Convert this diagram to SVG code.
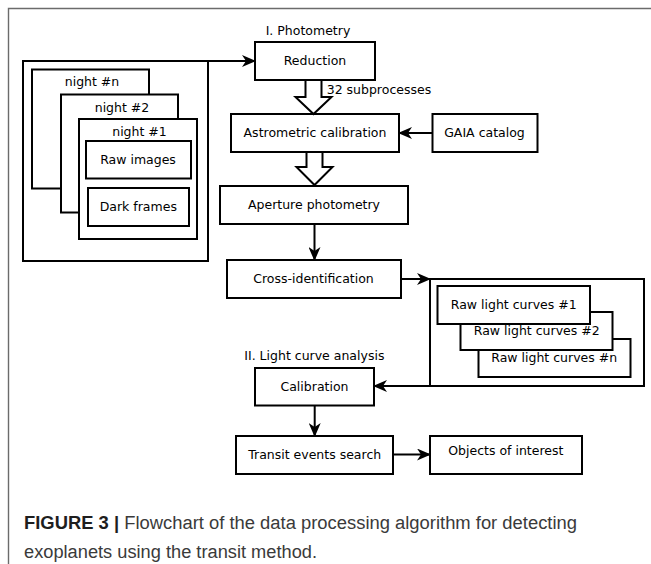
<svg xmlns="http://www.w3.org/2000/svg" width="651" height="564" viewBox="0 0 651 564">
  <style>
    .box { fill: #fff; stroke: #000; stroke-width: 2; }
    .lbl { font-family: "DejaVu Sans", sans-serif; font-size: 12.5px; fill: #000; }
    .mid { text-anchor: middle; }
    .wire { fill: none; stroke: #000; stroke-width: 2; }
    .fat { fill: #fff; stroke: #000; stroke-width: 2; stroke-linejoin: miter; }
    .cap { font-family: "Liberation Sans", Arial, sans-serif; font-size: 18px; fill: #3a3a3a; }
  </style>
  <defs>
    <marker id="head" markerUnits="userSpaceOnUse" viewBox="0 0 14 12" refX="13" refY="6" markerWidth="14" markerHeight="12" orient="auto">
      <path d="M0,0 L14,6 L0,12 L4,6 Z" fill="#000"/>
    </marker>
  </defs>

  <!-- page frame -->
  <path d="M8.5,564 V8.5 H651" fill="none" stroke="#6b6b6b" stroke-width="1.4"/>

  <!-- input data: nights of observation -->
  <g id="nights">
    <rect class="box" x="23" y="61" width="185" height="200"/>
    <g id="night-n">
      <rect class="box" x="32" y="69.5" width="117" height="119"/>
      <text class="lbl mid" x="92" y="86">night #n</text>
    </g>
    <g id="night-2">
      <rect class="box" x="61" y="94.5" width="117" height="118"/>
      <text class="lbl mid" x="122" y="111.5">night #2</text>
    </g>
    <g id="night-1">
      <rect class="box" x="79" y="119" width="118" height="120"/>
      <text class="lbl mid" x="139.5" y="136">night #1</text>
      <g id="raw-images">
        <rect class="box" x="86" y="141" width="105" height="37.5"/>
        <text class="lbl mid" x="138" y="163.5">Raw images</text>
      </g>
      <g id="dark-frames">
        <rect class="box" x="88" y="188" width="101" height="38"/>
        <text class="lbl mid" x="138.3" y="210.5">Dark frames</text>
      </g>
    </g>
  </g>

  <text class="lbl" x="265.7" y="34.5">I. Photometry</text>

  <g id="reduction">
    <rect class="box" x="255" y="42" width="120" height="38"/>
    <text class="lbl mid" x="315" y="65.3">Reduction</text>
  </g>

  <g id="astrometric">
    <rect class="box" x="231" y="114" width="168" height="38"/>
    <text class="lbl mid" x="315" y="137.3">Astrometric calibration</text>
  </g>

  <g id="gaia">
    <rect class="box" x="432.5" y="114" width="105" height="38"/>
    <text class="lbl mid" x="484.5" y="137.3">GAIA catalog</text>
  </g>

  <g id="aperture">
    <rect class="box" x="220" y="186" width="188" height="38"/>
    <text class="lbl mid" x="314" y="209">Aperture photometry</text>
  </g>

  <g id="cross-id">
    <rect class="box" x="227" y="260" width="174" height="38"/>
    <text class="lbl mid" x="313.5" y="283.3">Cross-identification</text>
  </g>

  <!-- light curves stack -->
  <g id="light-curves">
    <rect class="box" x="430" y="279" width="214" height="107"/>
    <g id="lc-n">
      <rect class="box" x="478.5" y="339" width="152" height="38"/>
      <text class="lbl mid" x="554.2" y="362">Raw light curves #n</text>
    </g>
    <g id="lc-2">
      <rect class="box" x="460.5" y="312" width="152" height="38"/>
      <text class="lbl mid" x="536.7" y="335">Raw light curves #2</text>
    </g>
    <g id="lc-1">
      <rect class="box" x="437.5" y="286" width="152.5" height="38"/>
      <text class="lbl mid" x="513.7" y="309.3">Raw light curves #1</text>
    </g>
  </g>

  <text class="lbl" x="244.3" y="360">II. Light curve analysis</text>

  <g id="calibration">
    <rect class="box" x="255" y="368" width="119" height="37.5"/>
    <text class="lbl mid" x="314.5" y="390.7">Calibration</text>
  </g>

  <g id="transit">
    <rect class="box" x="236" y="436" width="157" height="38"/>
    <text class="lbl mid" x="314.7" y="458.5">Transit events search</text>
  </g>

  <g id="objects">
    <rect class="box" x="430" y="436" width="152" height="38"/>
    <text class="lbl mid" x="505.8" y="455">Objects of interest</text>
  </g>

  <!-- connectors -->
  <g id="connectors">
    <path class="wire" d="M208,61 H255" marker-end="url(#head)"/>
    <polygon class="fat" points="305.5,80 321.5,80 321.5,97 331.5,97 313.5,114 295.5,97 305.5,97"/>
    <text class="lbl" x="326.7" y="94">32 subprocesses</text>
    <path class="wire" d="M432.5,133 H399" marker-end="url(#head)"/>
    <polygon class="fat" points="306.5,152 322.5,152 322.5,167 332.5,167 314.5,185 296.5,167 306.5,167"/>
    <path class="wire" d="M314.5,224 V260" marker-end="url(#head)"/>
    <path class="wire" d="M401,279 H430" marker-end="url(#head)"/>
    <path class="wire" d="M430,386 H374" marker-end="url(#head)"/>
    <path class="wire" d="M314.7,405.5 V436" marker-end="url(#head)"/>
    <path class="wire" d="M393,454.5 H430" marker-end="url(#head)"/>
  </g>

  <!-- caption -->
  <text class="cap" x="24" y="529" textLength="553" lengthAdjust="spacingAndGlyphs"><tspan font-weight="bold" fill="#1e1e1e">FIGURE 3 |</tspan> Flowchart of the data processing algorithm for detecting</text>
  <text class="cap" x="24" y="558" textLength="293" lengthAdjust="spacingAndGlyphs">exoplanets using the transit method.</text>
</svg>
